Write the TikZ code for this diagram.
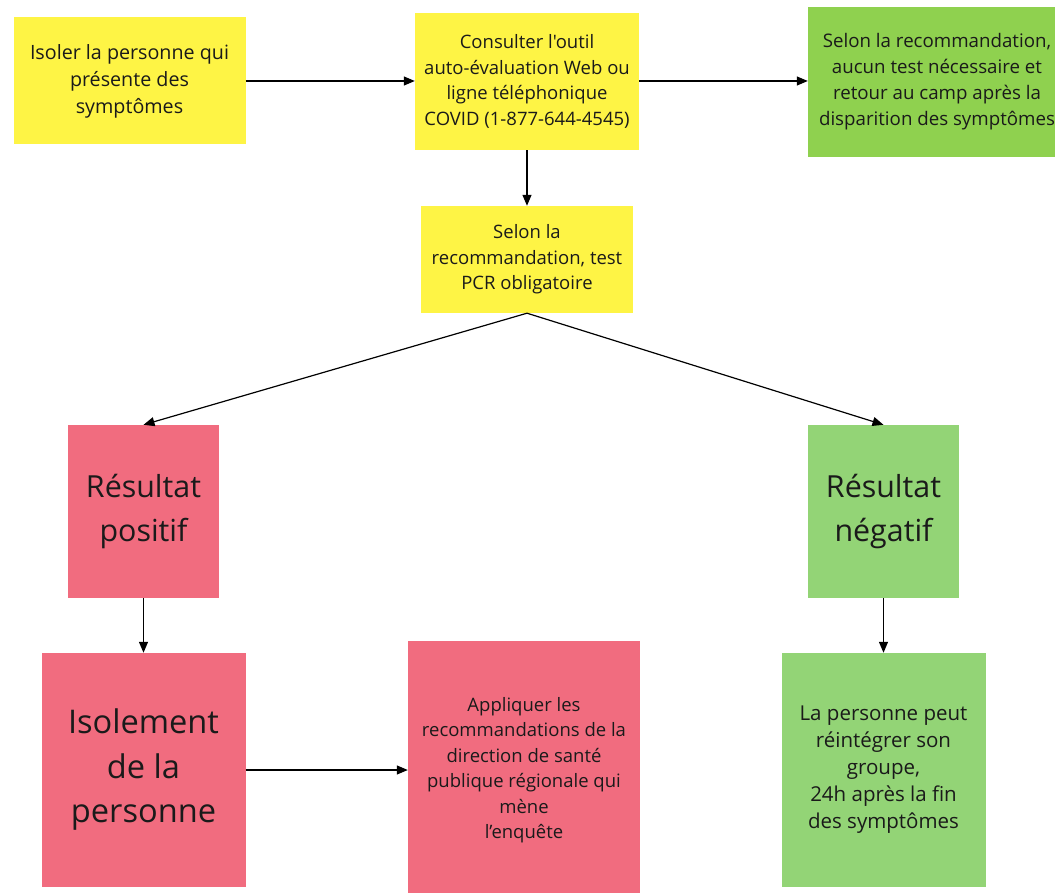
\documentclass[tikz,border=0pt]{standalone}
\usepackage{fontspec}
\newfontfamily\osans{Open Sans}
\usepackage{tikz}
\usetikzlibrary{arrows.meta}
\definecolor{yel}{HTML}{FEF445}
\definecolor{rose}{HTML}{F16C7F}
\definecolor{vert}{HTML}{8FD14F}
\definecolor{vertpale}{HTML}{93D476}
\definecolor{ink}{HTML}{1A1A1A}
\tikzset{
  box/.style={draw=none, align=center, text=ink, inner sep=0pt, font=\osans\fontsize{18.5}{25.5}\selectfont},
  ybox/.style={box, fill=yel},
  rbox/.style={box, fill=rose},
  gbox/.style={box, fill=vert},
  lgbox/.style={box, fill=vertpale},
  big/.style={font=\osans\fontsize{30.4}{43.5}\selectfont},
  bigger/.style={font=\osans\fontsize{32.6}{44.5}\selectfont},
  arr/.style={-{Triangle[length=11pt,width=9pt]}, line width=1.2pt, draw=black}
}
\begin{document}
\begin{tikzpicture}[x=1pt,y=-1pt]
  \useasboundingbox (0,0) rectangle (1055,893);
  \clip (0,0) rectangle (1055,893);

  % top row
  \node[ybox, minimum width=232pt, minimum height=127pt, font=\osans\fontsize{19.7}{27}\selectfont] (isoler) at (129.5,81)
    {Isoler la personne qui\\présente des\\symptômes};
  \node[ybox, minimum width=224pt, minimum height=137pt] (consulter) at (527,81.5)
    {Consulter l'outil\\auto-évaluation Web ou\\ligne téléphonique\\COVID (1-877-644-4545)};
  \node[gbox, minimum width=258pt, minimum height=150pt, font=\osans\fontsize{18.7}{26}\selectfont] (aucun) at (937,82)
    {Selon la recommandation,\\aucun test nécessaire et\\retour au camp après la\\disparition des symptômes};

  \node[ybox, minimum width=212pt, minimum height=107pt] (pcr) at (527,259.5)
    {Selon la\\recommandation, test\\PCR obligatoire};

  % results
  \node[rbox, big, minimum width=151pt, minimum height=173pt] (positif) at (143.5,511.5)
    {Résultat\\positif};
  \node[lgbox, big, minimum width=151pt, minimum height=173pt] (negatif) at (883.5,511.5)
    {Résultat\\négatif};

  % bottom row
  \node[rbox, bigger, minimum width=204pt, minimum height=234pt] (isolement) at (143.5,770)
    {Isolement\\de la\\personne};
  \node[rbox, minimum width=232pt, minimum height=258pt] (appliquer) at (524,770)
    {Appliquer les\\recommandations de la\\direction de santé\\publique régionale qui\\mène\\l’enquête};
  \node[lgbox, minimum width=204pt, minimum height=234pt, font=\osans\fontsize{20.5}{27}\selectfont] (reintegrer) at (883.5,770)
    {La personne peut\\réintégrer son\\groupe,\\24h après la fin\\des symptômes};

  % arrows
  \draw[arr] (isoler.east) -- (consulter.west |- isoler.east);
  \draw[arr] (consulter.east |- isoler.east) -- (aucun.west |- isoler.east);
  \draw[arr] (consulter.south) -- (pcr.north);
  \draw[arr] (pcr.south) -- (positif.north);
  \draw[arr] (pcr.south) -- (negatif.north);
  \draw[arr] (positif.south) -- (isolement.north);
  \draw[arr] (negatif.south) -- (reintegrer.north);
  \draw[arr] (isolement.east) -- (appliquer.west);
\end{tikzpicture}
\end{document}
